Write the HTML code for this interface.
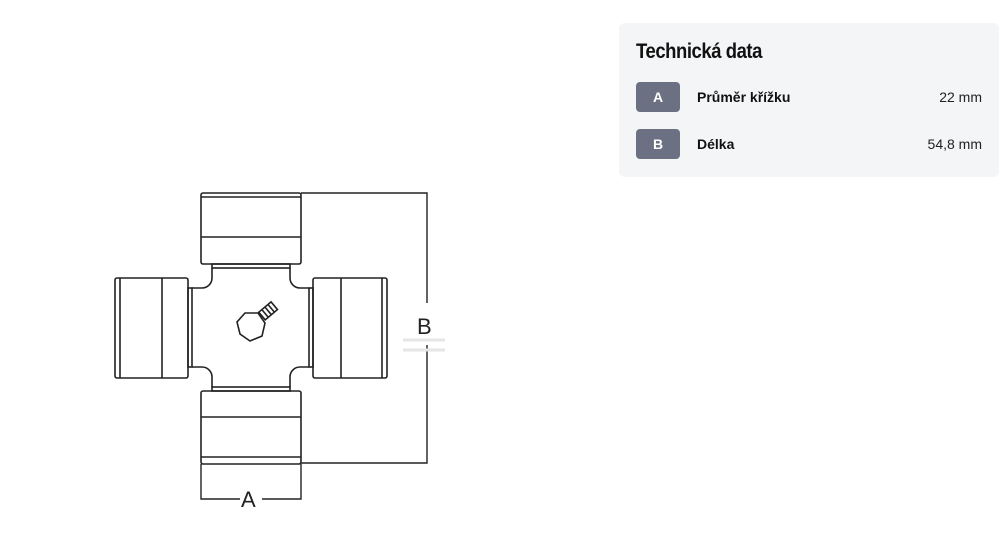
<!DOCTYPE html>
<html><head><style>
body{margin:0;width:1000px;height:538px;background:#fff;position:relative;font-family:"Liberation Sans",sans-serif;overflow:hidden}
.panel{position:absolute;left:619px;top:23px;width:380px;height:154px;background:#f4f5f7;border-radius:6px}
.t{position:absolute;left:17px;top:17px;font-size:21px;font-weight:bold;color:#111;letter-spacing:-0.5px;transform:scaleX(0.88);transform-origin:left}
.b{position:absolute;left:17px;width:44px;height:30px;background:#6b7082;border-radius:4px;color:#fff;font-weight:bold;font-size:14px;text-align:center;line-height:30px}
.l{position:absolute;left:78px;font-size:14px;font-weight:bold;color:#111;line-height:30px}
.v{position:absolute;right:17px;font-size:14px;color:#222;line-height:30px}
</style></head><body>
<svg width="1000" height="538" style="position:absolute;left:0;top:0" fill="none" stroke="#222" stroke-width="1.6">
<!-- top cap -->
<rect x="201" y="193" width="100" height="71" rx="2" fill="#fff"/>
<line x1="201" y1="197" x2="301" y2="197"/><line x1="201" y1="237" x2="301" y2="237"/>
<!-- bottom cap -->
<rect x="201" y="391" width="100" height="73" rx="2" fill="#fff"/>
<line x1="201" y1="417" x2="301" y2="417"/><line x1="201" y1="457" x2="301" y2="457"/>
<!-- left cap -->
<rect x="115" y="278" width="73" height="100" rx="2" fill="#fff"/>
<line x1="120" y1="278" x2="120" y2="378"/><line x1="162" y1="278" x2="162" y2="378"/>
<!-- right cap -->
<rect x="313" y="278" width="74" height="100" rx="2" fill="#fff"/>
<line x1="341" y1="278" x2="341" y2="378"/><line x1="382" y1="278" x2="382" y2="378"/>
<!-- necks -->
<rect x="212" y="264" width="78" height="4"/><rect x="212" y="387" width="78" height="4"/>
<rect x="188" y="288" width="4" height="79"/><rect x="309" y="288" width="4" height="79"/>
<!-- body with fillets -->
<path d="M212 268 V278 A10 10 0 0 1 202 288 H192 M290 268 V278 A10 10 0 0 0 300 288 H309 M212 387 V377 A10 10 0 0 0 202 367 H192 M290 387 V377 A10 10 0 0 1 300 367 H309"/>
<!-- grease nipple -->
<polygon points="245,313 258,313 265,323 262,336 250,341 240,334 237,322" fill="#fff"/>
<g transform="translate(262,316) rotate(-40)">
<rect x="0" y="-5" width="16" height="10" fill="#fff"/>
<line x1="4" y1="-5" x2="4" y2="5"/><line x1="8" y1="-5" x2="8" y2="5"/><line x1="12" y1="-5" x2="12" y2="5"/>
</g>
<!-- dimension B -->
<path d="M301 193 H427 V303 M427 345 V463 H301" stroke-width="1.4"/>
<!-- dimension A -->
<path d="M201 464 V499 H240 M262 499 H301 V464" stroke-width="1.4"/>
<text x="417" y="334" font-family="Liberation Sans" font-size="22" fill="#222" stroke="none">B</text>
<text x="241" y="507" font-family="Liberation Sans" font-size="22" fill="#222" stroke="none">A</text>
<g stroke="#e6e6e6" stroke-width="3"><line x1="403" y1="340" x2="445" y2="340"/><line x1="403" y1="350" x2="445" y2="350"/></g>
</svg>
<div class="panel">
<div class="t">Technická data</div>
<div class="b" style="top:59px">A</div><div class="l" style="top:59px">Průměr křížku</div><div class="v" style="top:59px">22 mm</div>
<div class="b" style="top:106px">B</div><div class="l" style="top:106px">Délka</div><div class="v" style="top:106px">54,8 mm</div>
</div>
</body></html>
